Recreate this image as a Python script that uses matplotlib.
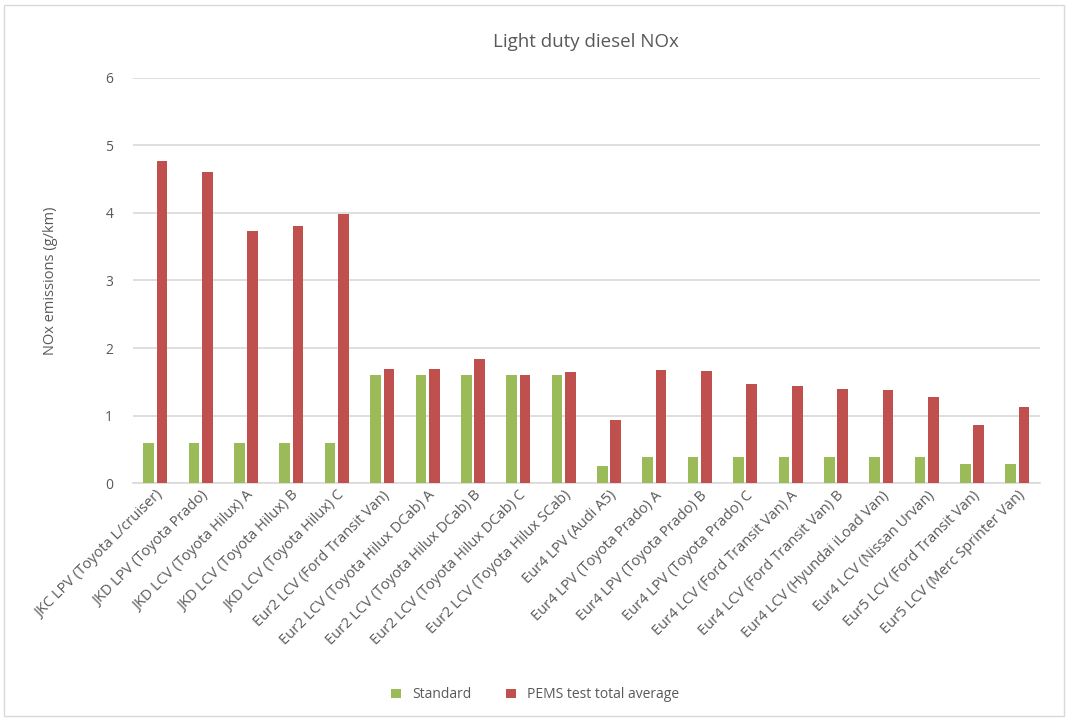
import matplotlib.pyplot as plt
import numpy as np
from matplotlib.patches import Rectangle

# vehicles on the x axis
vehicles = ["JKC LPV (Toyota L/cruiser)", "JKD LPV (Toyota Prado)", "JKD LCV (Toyota Hilux) A",
            "JKD LCV (Toyota Hilux) B", "JKD LCV (Toyota Hilux) C", "Eur2 LCV (Ford Transit Van)",
            "Eur2 LCV (Toyota Hilux DCab) A", "Eur2 LCV (Toyota Hilux DCab) B", "Eur2 LCV (Toyota Hilux DCab) C",
            "Eur2 LCV (Toyota Hilux SCab)", "Eur4 LPV (Audi A5)", "Eur4 LPV (Toyota Prado) A",
            "Eur4 LPV (Toyota Prado) B", "Eur4 LPV (Toyota Prado) C", "Eur4 LCV (Ford Transit Van) A",
            "Eur4 LCV (Ford Transit Van) B", "Eur4 LCV (Hyundai iLoad Van)", "Eur4 LCV (Nissan Urvan)",
            "Eur5 LCV (Ford Transit Van)", "Eur5 LCV (Merc Sprinter Van)"]
standard = [0.6, 0.6, 0.6, 0.6, 0.6, 1.6, 1.6, 1.6, 1.6, 1.6,
            0.25, 0.39, 0.39, 0.39, 0.39, 0.39, 0.39, 0.39, 0.28, 0.28]
pems = [4.77, 4.61, 3.74, 3.81, 3.98, 1.69, 1.69, 1.83, 1.6, 1.65,
        0.94, 1.67, 1.66, 1.47, 1.44, 1.40, 1.38, 1.27, 0.86, 1.12]

plt.rcParams['font.family'] = ['Open Sans', 'DejaVu Sans']
grey = '#595959'

fig = plt.figure(figsize=(10.7, 7.22), dpi=100)
ax = fig.add_axes([0.124, 0.331, 0.848, 0.561])

x = np.arange(len(vehicles))
w = 0.235
ax.bar(x - 0.147, standard, w, color='#9BBB59', label='Standard', zorder=3)
ax.bar(x + 0.147, pems, w, color='#C0504D', label='PEMS test total average', zorder=3)

ax.set_xlim(-0.5, len(vehicles) - 0.5)
ax.set_ylim(0, 6)
ax.set_yticks(range(7))
ax.yaxis.grid(True, color='#D9D9D9', linewidth=1.2, zorder=0)
for s in ['top', 'right', 'left']:
    ax.spines[s].set_visible(False)
ax.spines['bottom'].set_color('#D9D9D9')
ax.spines['bottom'].set_linewidth(1.2)
ax.tick_params(axis='both', length=0, colors=grey, labelsize=10)
ax.tick_params(axis='y', pad=14)
ax.set_xticks(x)
ax.set_xticklabels(vehicles, rotation=45, ha='right', rotation_mode='anchor', fontsize=10.5, color=grey)
ax.set_ylabel('NOx emissions (g/km)', color=grey, fontsize=10.5, labelpad=34)
ax.set_title('Light duty diesel NOx', color=grey, fontsize=13.5, pad=22)

fig.legend(loc='lower center', bbox_to_anchor=(0.5, 0.01), ncol=2, frameon=False,
           fontsize=10, labelcolor=grey, handlelength=0.7, handleheight=0.7, columnspacing=2.5)

fig.patches.append(Rectangle((0.004, 0.008), 0.99, 0.985, transform=fig.transFigure,
                             fill=False, edgecolor='#D9D9D9', linewidth=1))

plt.savefig('out.png', dpi=100)
